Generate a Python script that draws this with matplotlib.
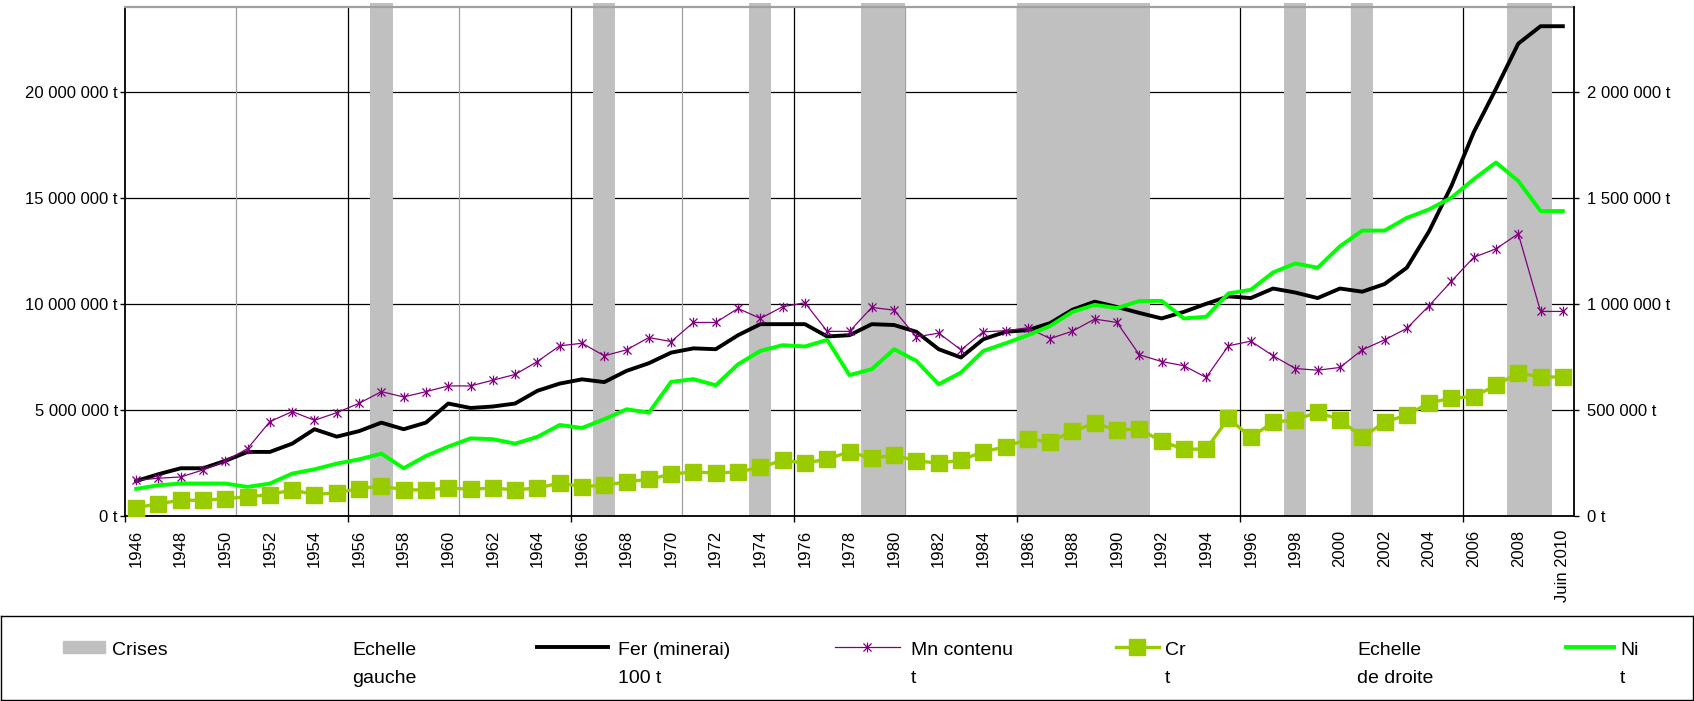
import numpy as np
import matplotlib
matplotlib.use('Agg')
import matplotlib.pyplot as plt
from matplotlib.path import Path
from matplotlib.patches import Rectangle
from matplotlib.ticker import FuncFormatter

plt.rcParams['font.family'] = ['Liberation Sans', 'DejaVu Sans']

# catégories : 1946 ... 2009 puis "Juin 2010"
annees = [str(a) for a in range(1946, 2010)] + ['Juin 2010']

# années de crise (bandes grises)
crises = [1957, 1967, 1974, 1979, 1980, 1986, 1987, 1988, 1989, 1990, 1991,
          1998, 2001, 2008, 2009]

# Fer (minerai), en millions (échelle gauche)
fer = [1.65, 1.97, 2.25, 2.25, 2.6, 3.02, 3.02, 3.41, 4.09, 3.74,
       4.0, 4.4, 4.09, 4.4, 5.3, 5.09, 5.16, 5.3, 5.9, 6.24,
       6.44, 6.31, 6.84, 7.2, 7.7, 7.9, 7.86, 8.52, 9.04, 9.04,
       9.04, 8.46, 8.52, 9.04, 9.0, 8.68, 7.86, 7.47, 8.33, 8.68,
       8.76, 9.09, 9.72, 10.1, 9.85, 9.57, 9.31, 9.62, 10.0, 10.35,
       10.27, 10.72, 10.53, 10.27, 10.72, 10.57, 10.93, 11.7, 13.42, 15.55,
       18.08, 20.13, 22.26, 23.08, 23.08]

# Mn contenu, en millions (échelle gauche)
mn = [1.68, 1.78, 1.84, 2.17, 2.59, 3.18, 4.45, 4.92, 4.51, 4.87,
      5.31, 5.86, 5.61, 5.86, 6.13, 6.13, 6.4, 6.67, 7.28, 8.02,
      8.14, 7.55, 7.83, 8.41, 8.22, 9.12, 9.12, 9.78, 9.31, 9.86,
      10.05, 8.7, 8.7, 9.83, 9.7, 8.44, 8.62, 7.83, 8.68, 8.73,
      8.87, 8.36, 8.71, 9.28, 9.12, 7.6, 7.28, 7.08, 6.53, 8.02,
      8.24, 7.55, 6.95, 6.87, 7.0, 7.83, 8.3, 8.84, 9.91, 11.06,
      12.19, 12.59, 13.3, 9.64, 9.64]

# Cr, en milliers de t (échelle droite)
cr = [39, 58, 74, 74, 82, 90, 101, 123, 101, 110,
      129, 142, 123, 123, 132, 126, 132, 123, 132, 155,
      139, 145, 161, 173, 197, 208, 202, 208, 229, 263,
      249, 268, 303, 271, 287, 260, 249, 263, 303, 326,
      363, 350, 399, 437, 405, 410, 352, 315, 315, 461,
      371, 442, 453, 489, 454, 371, 442, 476, 533, 555,
      563, 615, 675, 655, 655]

# Ni, en milliers de t (échelle droite)
ni = [128, 145, 153, 153, 153, 137, 153, 200, 220, 247,
      267, 294, 225, 283, 327, 366, 362, 341, 373, 429,
      415, 456, 503, 487, 632, 645, 616, 715, 778, 805,
      799, 830, 664, 692, 786, 731, 621, 676, 778, 814,
      852, 896, 962, 995, 980, 1013, 1014, 931, 939, 1049,
      1066, 1148, 1190, 1170, 1271, 1345, 1345, 1405, 1445, 1500,
      1587, 1666, 1579, 1437, 1437]

W, H = 1694, 701
fig = plt.figure(figsize=(W / 100, H / 100), dpi=100)
ax = fig.add_axes([125 / W, 1 - 516 / H, (1574 - 125) / W, (516 - 6.7) / H])
ax2 = ax.twinx()

x = np.arange(len(annees))
xc = np.array([annees.index(str(a)) for a in crises])

# bandes de crise
ax.bar(xc, 24.16e6, width=1.0, color='#C0C0C0', zorder=1, clip_on=False)

# grilles
ax.set_axisbelow(True)
ax.yaxis.grid(True, color='black', lw=0.9)
for k in range(10, 65, 10):
    ax.axvline(k - 0.5, color='black', lw=0.9, zorder=0.6)
for k in range(5, 65, 10):
    ax.axvline(k - 0.5, color='#A0A0A0', lw=0.9, zorder=0.6)

etoile = Path([(-1, -1), (1, 1), (-1, 1), (1, -1), (0, -1.2), (0, 1.2)],
              [Path.MOVETO, Path.LINETO] * 3)

ax.plot(x, np.array(fer) * 1e6, color='black', lw=2.8, zorder=3)
ax.plot(x, np.array(mn) * 1e6, color='#800080', lw=0.9, marker=etoile,
        ms=7, mew=0.9, zorder=4)
ax2.plot(x, np.array(cr) * 1e3, color='#99CC00', lw=2.4, marker='s', ms=11)
ax2.plot(x, np.array(ni) * 1e3, color='#00FF00', lw=2.8)

ax.set_xlim(-0.5, len(annees) - 0.5)
ax.set_ylim(0, 24e6)
ax2.set_ylim(0, 2.4e6)

fmt = FuncFormatter(lambda v, p: f"{int(round(v)):,}".replace(',', ' ') + ' t')
ax.set_yticks(np.arange(0, 20.1e6, 5e6))
ax2.set_yticks(np.arange(0, 2.01e6, 5e5))
ax.yaxis.set_major_formatter(fmt)
ax2.yaxis.set_major_formatter(fmt)

ax.set_xticks(np.arange(-0.5, 64, 10))
ax.set_xticklabels([])
ax.set_xticks(x[::2], minor=True)
ax.set_xticklabels(annees[::2], minor=True, rotation=90)
ax.tick_params(axis='x', which='major', length=4.5, width=1, direction='out')
ax.tick_params(axis='x', which='minor', length=0, pad=10, labelsize=12)
ax.tick_params(axis='y', length=3.6, width=1, pad=1.5, labelsize=12)
ax2.tick_params(axis='y', length=3.6, width=1, pad=6, labelsize=12)

for s in ['left', 'bottom']:
    ax.spines[s].set_color('black')
    ax.spines[s].set_linewidth(1.3)
ax.spines['top'].set_color('#A0A0A0')
ax.spines['top'].set_linewidth(1.6)
ax.spines['right'].set_visible(False)
for s in ['left', 'bottom', 'top']:
    ax2.spines[s].set_visible(False)
ax2.spines['right'].set_color('black')
ax2.spines['right'].set_linewidth(1.3)

# légende
lax = fig.add_axes([0.0005, 0.001, 0.999, 85 / H - 0.001])
lax.set_xlim(0, W)
lax.set_ylim(701, 616)
lax.set_xticks([])
lax.set_yticks([])
for s in lax.spines.values():
    s.set_color('black')
    s.set_linewidth(1.0)

yh = 647
lax.add_patch(Rectangle((62, 641), 42, 12, color='#C0C0C0'))
lax.plot([537, 608], [yh, yh], color='black', lw=2.8)
lax.plot([835, 900], [yh, yh], color='#800080', lw=0.9)
lax.plot([867], [yh], color='#800080', marker=etoile, ms=7, mew=0.9)
lax.plot([1116, 1159], [yh, yh], color='#99CC00', lw=2.4)
lax.plot([1137], [yh], color='#99CC00', marker='s', ms=11)
lax.plot([1567, 1615], [yh, yh], color='#00FF00', lw=2.8)

textes = [(111, 'Crises', ''), (352, 'Echelle', 'gauche'),
          (618, 'Fer (minerai)', '100 t'), (911, 'Mn contenu', 't'),
          (1165, 'Cr', 't'), (1358, 'Echelle', 'de droite'), (1621, 'Ni', 't')]
for xt, l1, l2 in textes:
    lax.text(xt, 655, l1, fontsize=14, va='baseline', ha='left')
    if l2:
        lax.text(xt, 684, l2, fontsize=14, va='baseline', ha='left')

fig.savefig('out.png', dpi=100)
